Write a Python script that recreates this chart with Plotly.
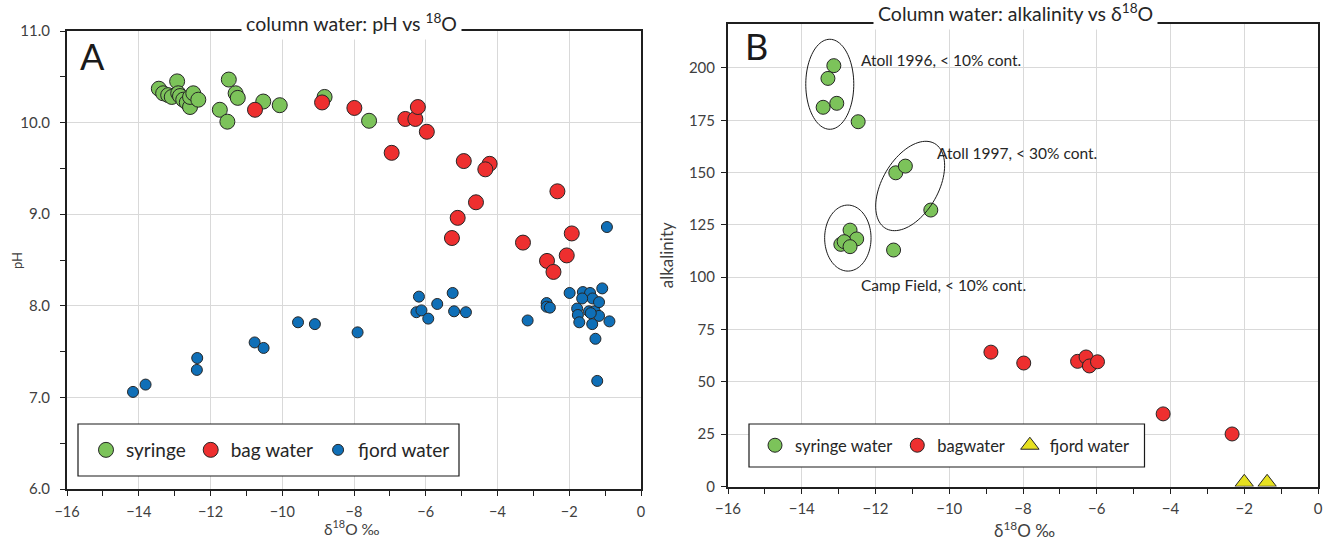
import numpy as np
import plotly.graph_objects as go

# ---------------- Panel A data: pH vs d18O ----------------
a_syringe_x = [-13.44, -12.93, -13.32, -13.18, -13.08, -12.90, -12.85, -12.76, -12.66, -12.57,
               -12.57, -12.48, -12.34, -11.49, -11.30, -11.24, -11.74, -11.53, -10.53, -10.07,
               -8.82, -7.58]
a_syringe_y = [10.37, 10.45, 10.32, 10.30, 10.28, 10.32, 10.29, 10.25, 10.22, 10.17,
               10.28, 10.32, 10.25, 10.47, 10.32, 10.27, 10.14, 10.01, 10.23, 10.19,
               10.28, 10.02]

a_bag_x = [-10.76, -8.89, -7.99, -6.57, -6.29, -6.22, -5.97, -6.95, -4.94, -4.22,
           -4.34, -2.33, -4.60, -5.11, -5.27, -3.29, -1.93, -2.62, -2.07, -2.44]
a_bag_y = [10.14, 10.22, 10.16, 10.04, 10.04, 10.17, 9.90, 9.67, 9.58, 9.55,
           9.49, 9.25, 9.13, 8.96, 8.74, 8.69, 8.79, 8.49, 8.55, 8.37]

a_fjord_x = [-14.16, -13.81, -12.37, -12.38, -10.77, -10.52, -9.56, -9.09, -7.90, -6.19,
             -6.26, -6.12, -5.93, -5.68, -5.25, -5.21, -4.88, -3.16, -2.63, -2.63,
             -2.54, -1.99, -1.62, -1.42, -1.35, -1.08, -1.64, -1.78, -1.76, -1.72,
             -1.45, -1.29, -1.17, -1.17, -1.36, -0.88, -1.27, -1.22, -1.40, -0.95]
a_fjord_y = [7.06, 7.14, 7.43, 7.30, 7.60, 7.54, 7.82, 7.80, 7.71, 8.10,
             7.93, 7.95, 7.86, 8.02, 8.14, 7.94, 7.93, 7.84, 8.03, 7.99,
             7.98, 8.14, 8.15, 8.14, 8.08, 8.19, 8.08, 7.97, 7.90, 7.82,
             7.94, 7.94, 8.04, 7.89, 7.80, 7.83, 7.64, 7.18, 7.92, 8.86]

# ---------------- Panel B data: alkalinity vs d18O ----------------
b_syringe_x = [-13.13, -13.29, -13.42, -13.05, -12.47, -11.45, -11.19, -10.50, -11.51,
               -12.69, -12.51, -12.94, -12.85, -12.69]
b_syringe_y = [201.1, 195.0, 181.2, 183.1, 174.3, 149.9, 153.1, 132.1, 113.0,
               122.5, 118.3, 115.7, 117.0, 114.6]

b_bag_x = [-8.87, -7.98, -6.52, -6.29, -6.20, -5.98, -4.20, -2.33]
b_bag_y = [64.2, 59.0, 59.8, 61.9, 57.6, 59.6, 34.7, 25.1]

b_fjord_x = [-2.0, -1.38]
b_fjord_y = [2.0, 2.0]

# Group annotations (ellipse centre in data units, semi axes in px, tilt in deg)
groups = [
    dict(label="Atoll 1996, < 10% cont.", cx=-13.24, cy=192.2, a=24, b=45, tilt=0,
         tx=-12.46, ty=203.8),
    dict(label="Atoll 1997, < 30% cont.", cx=-11.06, cy=143.6, a=28, b=49, tilt=30,
         tx=-10.39, ty=159.5),
    dict(label="Camp Field, < 10% cont.", cx=-12.75, cy=118.7, a=23.2, b=33, tilt=0,
         tx=-12.45, ty=96.3),
]

W, H = 1323, 545
FONT = "Lato, 'Open Sans', sans-serif"
GREEN, RED, BLUE, YELLOW = "#7cc35a", "#ee2f2f", "#0f6fb7", "#e6e020"
EDGE = "#262626"
TXT = "#404040"
GRID = "#d9d9d9"

axA_x = [67 / W, 641 / W]
axA_y = [(H - 489) / H, (H - 31) / H]
axB_x = [728 / W, 1318 / W]
axB_y = [(H - 486.5) / H, (H - 24) / H]
B_XR = [-16, 0]
B_YR = [0, 221]

fig = go.Figure()

def mk(color, size, symbol="circle"):
    return dict(color=color, size=size, symbol=symbol, line=dict(color=EDGE, width=1))

fig.add_trace(go.Scatter(x=a_syringe_x, y=a_syringe_y, mode="markers", name="syringe",
                         marker=mk(GREEN, 15), xaxis="x", yaxis="y", legend="legend"))
fig.add_trace(go.Scatter(x=a_bag_x, y=a_bag_y, mode="markers", name="bag water",
                         marker=mk(RED, 15), xaxis="x", yaxis="y", legend="legend"))
fig.add_trace(go.Scatter(x=a_fjord_x, y=a_fjord_y, mode="markers", name="fjord water",
                         marker=mk(BLUE, 11), xaxis="x", yaxis="y", legend="legend"))

fig.add_trace(go.Scatter(x=b_syringe_x, y=b_syringe_y, mode="markers", name="syringe water",
                         marker=mk(GREEN, 14), xaxis="x2", yaxis="y2", legend="legend2"))
fig.add_trace(go.Scatter(x=b_bag_x, y=b_bag_y, mode="markers", name="bagwater",
                         marker=mk(RED, 14), xaxis="x2", yaxis="y2", legend="legend2"))
fig.add_trace(go.Scatter(x=b_fjord_x, y=b_fjord_y, mode="markers", name="fjord water",
                         marker=mk(YELLOW, 16, "triangle-up"), xaxis="x2", yaxis="y2",
                         legend="legend2"))

# ellipses in panel B built in pixel space then mapped to data space
pxx = W * (axB_x[1] - axB_x[0]) / (B_XR[1] - B_XR[0])
pxy = H * (axB_y[1] - axB_y[0]) / (B_YR[1] - B_YR[0])
shapes = []
annotations = []
t = np.linspace(0, 2 * np.pi, 90)
for g in groups:
    th = np.deg2rad(g["tilt"])
    ux, uy = np.sin(th), -np.cos(th)
    vx, vy = np.cos(th), np.sin(th)
    dx = g["b"] * np.cos(t) * ux + g["a"] * np.sin(t) * vx
    dy = g["b"] * np.cos(t) * uy + g["a"] * np.sin(t) * vy
    xs = g["cx"] + dx / pxx
    ys = g["cy"] - dy / pxy
    path = "M " + " L ".join(f"{x:.4f},{y:.3f}" for x, y in zip(xs, ys)) + " Z"
    shapes.append(dict(type="path", path=path, xref="x2", yref="y2",
                       line=dict(color="#1a1a1a", width=1)))
    annotations.append(dict(x=g["tx"], y=g["ty"], xref="x2", yref="y2", text=g["label"],
                            showarrow=False, xanchor="left", yanchor="middle",
                            font=dict(family=FONT, size=15.5, color="#262626")))

# legend frames (drawn as boxes so that their padding matches the original)
for (x0, x1, y0, y1) in [(78, 459, 424, 476), (749, 1144.5, 424, 467)]:
    shapes.append(dict(type="rect", xref="paper", yref="paper", x0=x0 / W, x1=x1 / W,
                       y0=(H - y1) / H, y1=(H - y0) / H, fillcolor="white",
                       line=dict(color="#1a1a1a", width=1.2), layer="above"))

def ptext(x, y, text, size, color="#262626", **kw):
    d = dict(x=x / W, y=(H - y) / H, xref="paper", yref="paper", text=text,
             showarrow=False, xanchor="center", yanchor="middle",
             font=dict(family=FONT, size=size, color=color))
    d.update(kw)
    annotations.append(d)

ptext(351, 22, "column water: pH vs <sup>18</sup>O", 19.5, bgcolor="white", borderpad=4)
ptext(1015.5, 13, "Column water: alkalinity vs δ<sup>18</sup>O", 19.5, bgcolor="white",
      borderpad=4)
ptext(92, 56, "A", 36, "#1a1a1a")
ptext(756, 46, "B", 36, "#1a1a1a")
# axis titles
ptext(352, 527, "δ<sup>18</sup>O ‰", 15.5, TXT)
ptext(1024, 529, "δ<sup>18</sup>O ‰", 17, TXT)
ptext(17, 261, "pH", 13, TXT, textangle=-90)

def axis(domain, rng, dtick, minor_dtick, tfs, anchor, standoff):
    return dict(domain=domain, range=rng, dtick=dtick, tick0=rng[0], showgrid=True,
                gridcolor=GRID, gridwidth=1, zeroline=False, showline=True,
                linecolor="#1f1f1f", linewidth=2, mirror=True, ticks="outside",
                ticklen=5, tickcolor="#1f1f1f", anchor=anchor, ticklabelstandoff=standoff,
                minor=dict(dtick=minor_dtick, ticks="outside", ticklen=5,
                           tickcolor="#1f1f1f", showgrid=False),
                tickfont=dict(family=FONT, size=tfs, color=TXT),
                fixedrange=True)

xa = axis(axA_x, [-16, 0], 2, 1, 14.5, "y", 4)
ya = axis(axA_y, [6, 11], 1, 0.5, 15, "x", 7)
ya["tickformat"] = ".1f"
xb = axis(axB_x, B_XR, 2, 1, 15, "y2", 2)
yb = axis(axB_y, B_YR, 25, 25, 15, "x2", 3)
yb["tick0"] = 0
yb["title"] = dict(text="alkalinity", font=dict(family=FONT, size=17, color=TXT), standoff=11)

legend_common = dict(orientation="h", bgcolor="rgba(0,0,0,0)", borderwidth=0,
                     xanchor="left", yanchor="middle", itemwidth=30, tracegroupgap=0)
fig.update_layout(
    width=W, height=H, margin=dict(l=0, r=0, t=0, b=0, autoexpand=False),
    paper_bgcolor="white", plot_bgcolor="white",
    xaxis=xa, yaxis=ya, xaxis2=xb, yaxis2=yb,
    shapes=shapes, annotations=annotations,
    legend=dict(x=86 / W, y=(H - 450) / H, font=dict(family=FONT, size=19, color="#262626"),
                **legend_common),
    legend2=dict(x=755 / W, y=(H - 445.5) / H,
                 font=dict(family=FONT, size=16.5, color="#262626"), **legend_common),
    font=dict(family=FONT),
)

fig.write_html("out.html", config={"displayModeBar": False},
               post_script="document.body.style.margin='0px';")
